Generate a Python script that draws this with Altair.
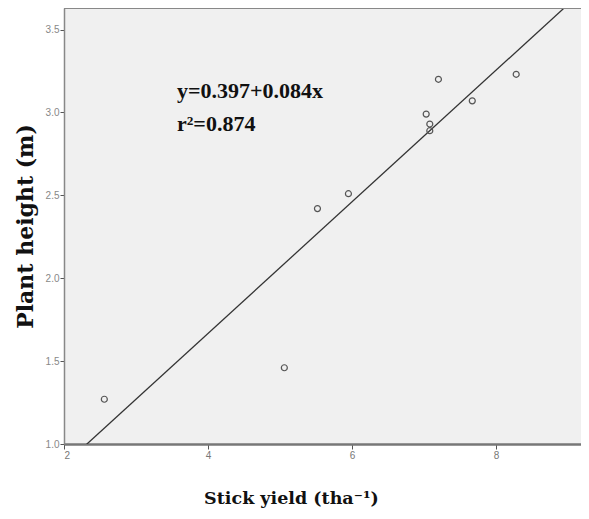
import altair as alt
import pandas as pd

# Data
stick_yield = [2.56, 5.06, 5.52, 5.95, 7.03, 7.08, 7.08, 7.20, 7.67, 8.28]
plant_height = [1.27, 1.46, 2.42, 2.51, 2.99, 2.93, 2.89, 3.20, 3.07, 3.23]
x_ticks = [2, 4, 6, 8]
y_ticks = [1.0, 1.5, 2.0, 2.5, 3.0, 3.5]
eq_lines = ["y=0.397+0.084x", "r\u00b2=0.874"]

df = pd.DataFrame({"x": stick_yield, "y": plant_height})

W, H = 517, 436
X_DOM = [2, 9.18]
Y_DOM = [1.0, 3.63]

xs = alt.Scale(domain=X_DOM, nice=False, zero=False)
ys = alt.Scale(domain=Y_DOM, nice=False, zero=False)

x_axis = alt.Axis(
    values=x_ticks, format="d", grid=False, title="Stick yield (tha\u207b\u00b9)",
    labelFont="Liberation Sans", labelFontSize=10, labelColor="#777",
    tickColor="#555", tickSize=5, domainColor="#777", domainWidth=2.5,
    titleFont="DejaVu Serif", titleFontSize=17.5, titleFontWeight="bold",
    titleColor="#111", titleX=227, titleY=59, titleBaseline="alphabetic",
    labelPadding=1,
)
y_axis = alt.Axis(
    values=y_ticks, format=".1f", grid=False, title="Plant height (m)",
    labelFont="Liberation Sans", labelFontSize=10, labelColor="#888",
    tickColor="#555", tickSize=4, domainColor="#888", domainWidth=1.5,
    titleFont="DejaVu Serif", titleFontSize=22, titleFontWeight="bold",
    titleColor="#111", titlePadding=8, labelPadding=1,
)

base = alt.Chart(df)

points = base.mark_point(shape="circle", filled=False, size=36, color="#555",
                         strokeWidth=1.2, opacity=1).encode(
    x=alt.X("x:Q", scale=xs, axis=x_axis),
    y=alt.Y("y:Q", scale=ys, axis=y_axis),
)

fit = base.transform_regression("x", "y", extent=[1.5, 9.5]).mark_line(
    color="#333", strokeWidth=1.3, clip=True
).encode(x=alt.X("x:Q", scale=xs), y=alt.Y("y:Q", scale=ys))

top_border = alt.Chart(pd.DataFrame({"k": [0]})).mark_rule(
    color="#888", strokeWidth=2
).encode(x=alt.value(0), x2=alt.value(W + 10), y=alt.value(0))

eq1 = alt.Chart(pd.DataFrame({"t": [eq_lines[0]]})).mark_text(
    font="Liberation Serif", fontSize=22, fontWeight="bold", color="#111",
    align="left", baseline="alphabetic"
).encode(text="t:N", x=alt.value(113), y=alt.value(90))

eq2 = alt.Chart(pd.DataFrame({"t": [eq_lines[1]]})).mark_text(
    font="Liberation Serif", fontSize=22, fontWeight="bold", color="#111",
    align="left", baseline="alphabetic"
).encode(text="t:N", x=alt.value(113), y=alt.value(123))

chart = alt.layer(fit, points, top_border, eq1, eq2).properties(
    width=W, height=H,
    autosize=alt.AutoSizeParams(type="none"),
    padding={"left": 56, "top": 0, "right": 0, "bottom": 65},
).configure_view(
    fill="#f0f0f0", strokeOpacity=0
)

chart.save("out.html", embed_options={"renderer": "svg", "actions": False})
